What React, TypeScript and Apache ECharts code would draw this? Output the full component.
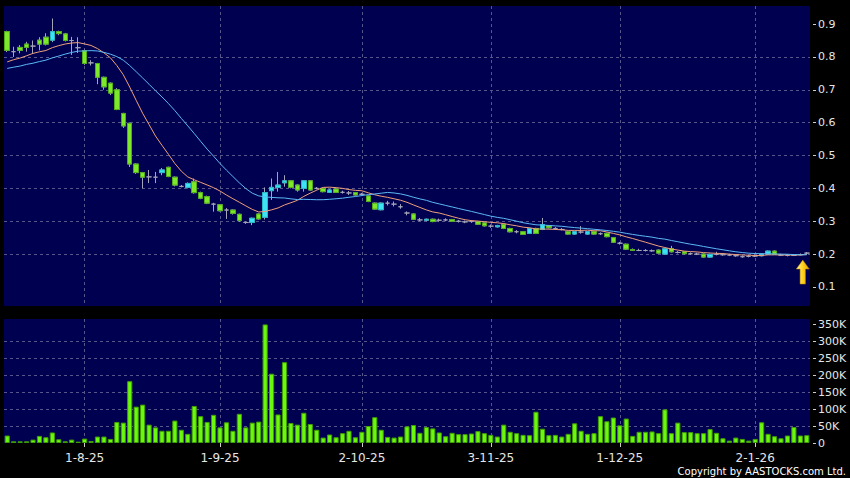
import React, { useEffect, useRef } from 'react';
import * as echarts from 'echarts';

// ---- calendar (HK trading days shown) ----
const START_DATE = [2025, 7, 16];
const END_DATE = [2026, 1, 14];
const HOLIDAYS = ['2025-10-01', '2025-10-07', '2025-10-29', '2025-12-25', '2025-12-26', '2026-01-01'];

function buildDates() {
  const out: { label: string; month: number }[] = [];
  const d = new Date(Date.UTC(START_DATE[0], START_DATE[1] - 1, START_DATE[2]));
  const end = new Date(Date.UTC(END_DATE[0], END_DATE[1] - 1, END_DATE[2]));
  while (d.getTime() <= end.getTime()) {
    const wd = d.getUTCDay();
    const y = d.getUTCFullYear();
    const m = d.getUTCMonth() + 1;
    const day = d.getUTCDate();
    const iso = `${y}-${String(m).padStart(2, '0')}-${String(day).padStart(2, '0')}`;
    if (wd !== 0 && wd !== 6 && HOLIDAYS.indexOf(iso) < 0) {
      out.push({ label: `${day}-${m}-${String(y).slice(2)}`, month: m });
    }
    d.setUTCDate(d.getUTCDate() + 1);
  }
  return out;
}
const dates = buildDates();
const categories = dates.map((d) => d.label);
const labelIndices = dates
  .map((d, i) => (i > 0 && d.month !== dates[i - 1].month ? i : -1))
  .filter((i) => i >= 0);

// closes before the first visible day (used only for moving averages)
const priorCloses = [0.74, 0.75, 0.73, 0.76, 0.74, 0.75, 0.74, 0.76, 0.73, 0.75, 0.75, 0.77, 0.76, 0.76, 0.79, 0.8, 0.79, 0.81, 0.8];

// [open, close, low, high]
const ohlc: number[][] = [
  [0.877, 0.82, 0.815, 0.88], [0.816, 0.816, 0.8, 0.831], [0.829, 0.82, 0.811, 0.836], [0.839, 0.829, 0.816, 0.846],
  [0.833, 0.833, 0.81, 0.85], [0.851, 0.839, 0.82, 0.86], [0.86, 0.839, 0.835, 0.872], [0.851, 0.877, 0.845, 0.917],
  [0.877, 0.871, 0.866, 0.88], [0.87, 0.85, 0.847, 0.873], [0.85, 0.85, 0.806, 0.861], [0.828, 0.828, 0.812, 0.86],
  [0.819, 0.78, 0.776, 0.822], [0.782, 0.782, 0.774, 0.79], [0.78, 0.738, 0.717, 0.782], [0.738, 0.709, 0.7, 0.74],
  [0.72, 0.69, 0.684, 0.722], [0.7, 0.64, 0.638, 0.705], [0.628, 0.59, 0.584, 0.63], [0.598, 0.474, 0.465, 0.6],
  [0.474, 0.448, 0.444, 0.476], [0.448, 0.434, 0.4, 0.45], [0.435, 0.435, 0.416, 0.456], [0.434, 0.434, 0.416, 0.45],
  [0.448, 0.456, 0.44, 0.462], [0.464, 0.436, 0.434, 0.466], [0.434, 0.41, 0.406, 0.436], [0.406, 0.406, 0.403, 0.41],
  [0.403, 0.415, 0.4, 0.418], [0.42, 0.387, 0.384, 0.43], [0.387, 0.37, 0.367, 0.39], [0.375, 0.355, 0.352, 0.378],
  [0.352, 0.352, 0.329, 0.356], [0.35, 0.332, 0.33, 0.352], [0.334, 0.334, 0.307, 0.34], [0.334, 0.324, 0.32, 0.336],
  [0.321, 0.302, 0.298, 0.323], [0.296, 0.296, 0.292, 0.299], [0.296, 0.309, 0.288, 0.311], [0.322, 0.307, 0.305, 0.324],
  [0.312, 0.387, 0.305, 0.403], [0.393, 0.403, 0.365, 0.43], [0.403, 0.41, 0.39, 0.45], [0.417, 0.423, 0.405, 0.44],
  [0.423, 0.403, 0.4, 0.425], [0.41, 0.395, 0.39, 0.412], [0.4, 0.423, 0.39, 0.425], [0.423, 0.395, 0.393, 0.425],
  [0.4, 0.4, 0.397, 0.404], [0.4, 0.39, 0.388, 0.402], [0.388, 0.395, 0.386, 0.398], [0.398, 0.388, 0.386, 0.4],
  [0.388, 0.388, 0.384, 0.393], [0.386, 0.386, 0.38, 0.392], [0.387, 0.38, 0.378, 0.389], [0.382, 0.382, 0.378, 0.386],
  [0.377, 0.36, 0.358, 0.379], [0.355, 0.337, 0.335, 0.357], [0.335, 0.355, 0.333, 0.357], [0.355, 0.355, 0.348, 0.362],
  [0.352, 0.352, 0.345, 0.36], [0.344, 0.344, 0.338, 0.352], [0.325, 0.325, 0.318, 0.33], [0.322, 0.306, 0.304, 0.324],
  [0.304, 0.304, 0.3, 0.31], [0.303, 0.306, 0.3, 0.308], [0.306, 0.299, 0.297, 0.308], [0.303, 0.303, 0.299, 0.308],
  [0.304, 0.304, 0.3, 0.309], [0.305, 0.3, 0.298, 0.307], [0.3, 0.3, 0.296, 0.304], [0.298, 0.298, 0.294, 0.302],
  [0.299, 0.299, 0.295, 0.303], [0.299, 0.291, 0.289, 0.301], [0.295, 0.286, 0.284, 0.297], [0.285, 0.285, 0.28, 0.29],
  [0.283, 0.287, 0.281, 0.289], [0.291, 0.278, 0.276, 0.293], [0.278, 0.268, 0.266, 0.28], [0.268, 0.268, 0.263, 0.273],
  [0.268, 0.26, 0.258, 0.27], [0.263, 0.278, 0.261, 0.28], [0.278, 0.263, 0.261, 0.28], [0.275, 0.29, 0.273, 0.31],
  [0.286, 0.28, 0.278, 0.288], [0.278, 0.278, 0.274, 0.282], [0.275, 0.275, 0.272, 0.279], [0.268, 0.261, 0.259, 0.27],
  [0.261, 0.268, 0.259, 0.27], [0.267, 0.267, 0.262, 0.285], [0.261, 0.268, 0.259, 0.27], [0.268, 0.261, 0.259, 0.27],
  [0.262, 0.262, 0.258, 0.266], [0.263, 0.253, 0.251, 0.265], [0.25, 0.236, 0.234, 0.252], [0.233, 0.233, 0.229, 0.237],
  [0.23, 0.215, 0.213, 0.232], [0.214, 0.211, 0.21, 0.217], [0.211, 0.211, 0.209, 0.216], [0.211, 0.211, 0.208, 0.215],
  [0.21, 0.21, 0.207, 0.214], [0.212, 0.203, 0.201, 0.214], [0.2, 0.216, 0.198, 0.218], [0.217, 0.207, 0.205, 0.225],
  [0.205, 0.205, 0.202, 0.209], [0.207, 0.201, 0.199, 0.209], [0.201, 0.201, 0.198, 0.205], [0.2, 0.2, 0.197, 0.204],
  [0.2, 0.191, 0.189, 0.202], [0.191, 0.199, 0.189, 0.201], [0.199, 0.199, 0.196, 0.207], [0.198, 0.198, 0.195, 0.202],
  [0.197, 0.197, 0.194, 0.201], [0.195, 0.195, 0.192, 0.199], [0.192, 0.192, 0.189, 0.196], [0.193, 0.193, 0.19, 0.197],
  [0.194, 0.194, 0.191, 0.198], [0.195, 0.2, 0.193, 0.202], [0.2, 0.209, 0.198, 0.211], [0.209, 0.2, 0.198, 0.211],
  [0.197, 0.197, 0.194, 0.201], [0.196, 0.196, 0.193, 0.2], [0.196, 0.196, 0.194, 0.2], [0.198, 0.198, 0.196, 0.202],
  [0.203, 0.203, 0.2, 0.206],
];

// volume in thousands of shares
const volumeK = [
  22, 5, 5, 5, 10, 21, 17, 31, 11, 5,
  10, 4, 13, 6, 19, 19, 12, 62, 60, 182,
  107, 113, 54, 46, 36, 36, 66, 39, 27, 109,
  79, 62, 83, 46, 61, 36, 86, 46, 60, 63,
  349, 204, 84, 238, 59, 54, 89, 56, 39, 16,
  25, 17, 29, 36, 17, 33, 50, 76, 39, 18,
  16, 19, 49, 53, 30, 47, 43, 31, 20, 30,
  26, 26, 28, 35, 29, 24, 19, 54, 33, 29,
  24, 23, 92, 42, 23, 24, 19, 27, 58, 36,
  27, 29, 79, 64, 75, 52, 72, 21, 33, 33,
  34, 29, 99, 29, 60, 32, 32, 29, 29, 41,
  30, 14, 7, 16, 12, 7, 12, 61, 27, 20,
  14, 22, 47, 22, 23,
];

const priceTicks = [0.1, 0.2, 0.3, 0.4, 0.5, 0.6, 0.7, 0.8, 0.9];
const volumeTicks = [0, 50000, 100000, 150000, 200000, 250000, 300000, 350000];
const PRICE_MIN = 0.042;
const PRICE_MAX = 0.955;
const VOL_MAX = 365000;
const MA_SHORT = 10;
const MA_LONG = 20;

function movingAverage(n: number) {
  const all = priorCloses.concat(ohlc.map((r) => r[1]));
  return ohlc.map((_, i) => {
    const end = priorCloses.length + i;
    let s = 0;
    for (let k = end - n + 1; k <= end; k++) s += all[k];
    return +(s / n).toFixed(4);
  });
}

export default function App() {
  const ref = useRef<HTMLDivElement>(null);
  useEffect(() => {
    document.body.style.margin = '0';
    document.body.style.background = '#000';
    const chart = echarts.init(ref.current!, null, { renderer: 'svg' });
    const isLabel = (i: number) => labelIndices.indexOf(i) >= 0;
    const gridLine = { color: '#56568a', width: 1, type: [3, 3] as any };
    const labelColor = '#e6e6e6';
    const font = 'DejaVu Sans';
    const wick = '#a4a4b8';
    const last = ohlc.length - 1;

    const xBase = {
      type: 'category',
      data: categories,
      boundaryGap: true,
      axisLine: { show: false },
      splitLine: { show: true, interval: (i: number) => isLabel(i), alignWithLabel: true, lineStyle: gridLine },
    };

    chart.setOption({
      animation: false,
      backgroundColor: '#000000',
      grid: [
        { left: 4, right: 40, top: 6, height: 300, show: true, backgroundColor: '#000050', borderWidth: 0 },
        { left: 4, right: 40, top: 319, height: 124, show: true, backgroundColor: '#000050', borderWidth: 0 },
      ],
      xAxis: [
        { ...xBase, gridIndex: 0, axisTick: { show: false }, axisLabel: { show: false } },
        {
          ...xBase,
          gridIndex: 1,
          axisTick: { show: true, alignWithLabel: true, interval: (i: number) => isLabel(i), length: 4, lineStyle: { color: '#cccccc' } },
          axisLabel: { interval: (i: number) => isLabel(i), color: labelColor, fontSize: 12, fontFamily: font, margin: 9 },
        },
      ],
      yAxis: [
        {
          type: 'value', gridIndex: 0, position: 'right', offset: 3, min: PRICE_MIN, max: PRICE_MAX, splitNumber: 9,
          axisLine: { show: false },
          axisTick: { show: true, length: 3, customValues: priceTicks, lineStyle: { color: '#cccccc' } },
          axisLabel: { customValues: priceTicks, formatter: (v: number) => v.toFixed(1), color: labelColor, fontSize: 11, fontFamily: font, margin: 5 },
          splitLine: { show: true, showMinLine: false, showMaxLine: false, lineStyle: gridLine },
        },
        {
          type: 'value', gridIndex: 1, position: 'right', offset: 3, min: 0, max: VOL_MAX,
          axisLine: { show: false },
          axisTick: { show: true, length: 3, customValues: volumeTicks, lineStyle: { color: '#cccccc' } },
          axisLabel: {
            customValues: volumeTicks,
            formatter: (v: number) => (v === 0 ? '0' : `${Math.round(v / 1000)}K`),
            color: labelColor, fontSize: 11, fontFamily: font, margin: 5,
          },
          splitLine: { show: true, showMinLine: false, showMaxLine: false, lineStyle: gridLine },
        },
      ],
      series: [
        {
          name: 'wick', type: 'candlestick', xAxisIndex: 0, yAxisIndex: 0, barWidth: 5,
          data: ohlc,
          itemStyle: { color: 'rgba(0,0,0,0)', color0: 'rgba(0,0,0,0)', borderColor: wick, borderColor0: wick, borderColorDoji: wick, borderWidth: 1 },
          markPoint: {
            symbol: 'path://M6,0 L12,9 L8.5,9 L8.5,24 L3.5,24 L3.5,9 L0,9 Z',
            symbolSize: [13, 24],
            symbolOffset: [-4, 18],
            label: { show: false },
            itemStyle: {
              color: new echarts.graphic.LinearGradient(0, 0, 1, 0, [
                { offset: 0, color: '#fff6a8' },
                { offset: 0.5, color: '#ffd21c' },
                { offset: 1, color: '#e8a000' },
              ]),
              borderColor: '#b07800', borderWidth: 0.5,
            },
            data: [{ coord: [categories[last], ohlc[last][2]] }],
          },
        },
        {
          name: 'body', type: 'candlestick', xAxisIndex: 0, yAxisIndex: 0, barWidth: 5,
          data: ohlc.map(([o, c]) => (o === c ? ['-', '-', '-', '-'] : [o, c, Math.min(o, c), Math.max(o, c)])),
          itemStyle: { color: '#3de3f2', color0: '#7ee82a', borderColor: '#27b8c8', borderColor0: '#4fae18', borderColorDoji: wick, borderWidth: 1 },
        },
        {
          name: 'MA10', type: 'line', xAxisIndex: 0, yAxisIndex: 0, data: movingAverage(MA_SHORT),
          showSymbol: false, symbol: 'none', lineStyle: { color: '#f0a07a', width: 1 }, z: 3,
        },
        {
          name: 'MA20', type: 'line', xAxisIndex: 0, yAxisIndex: 0, data: movingAverage(MA_LONG),
          showSymbol: false, symbol: 'none', lineStyle: { color: '#5cb8f5', width: 1 }, z: 3,
        },
        {
          name: 'Volume', type: 'bar', xAxisIndex: 1, yAxisIndex: 1, barWidth: '80%',
          data: volumeK.map((v) => v * 1000),
          itemStyle: { color: '#6cf70e', borderColor: '#3f9e00', borderWidth: 1 },
        },
      ],
      graphic: [
        {
          type: 'text', right: 4, bottom: 2,
          style: { text: 'Copyright by AASTOCKS.com Ltd.', fill: '#ffffff', font: `10px "${font}"` },
        },
      ],
    });
    return () => chart.dispose();
  }, []);
  return <div ref={ref} style={{ width: 850, height: 478, background: '#000' }} />;
}
